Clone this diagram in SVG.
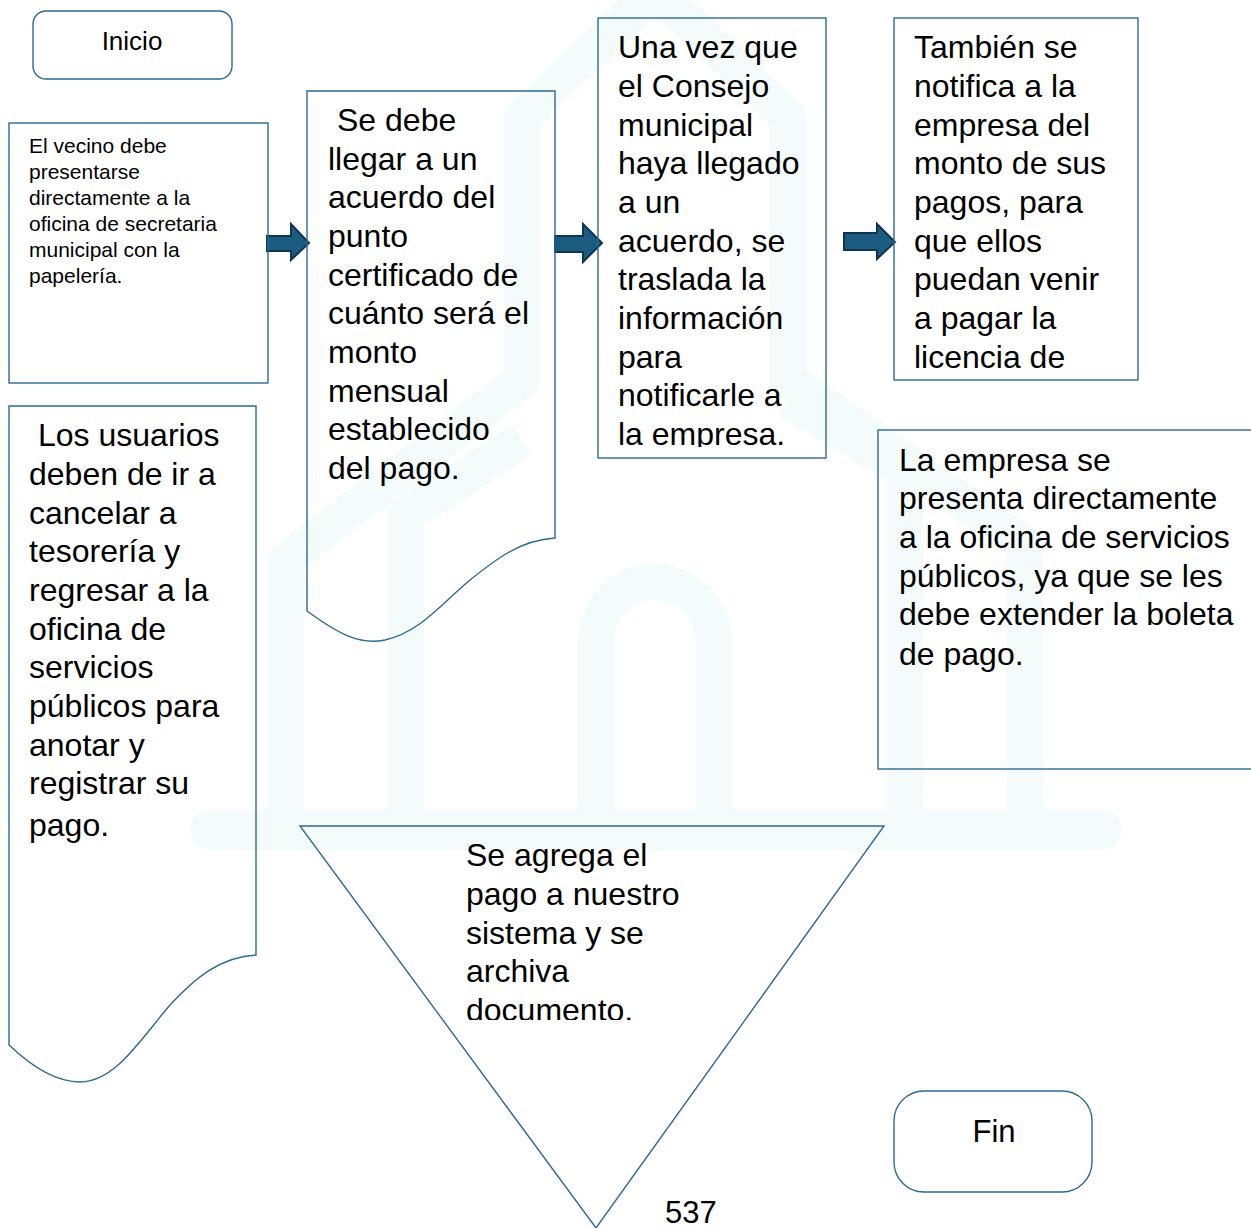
<svg xmlns="http://www.w3.org/2000/svg" width="1251" height="1228" viewBox="0 0 1251 1228">
<defs>
<style>
.box{fill:none;stroke:#2b6a92;stroke-width:1.4}
.t{font-family:"Liberation Sans",Arial,sans-serif;fill:#000}
.s21{font-size:21px}
.s32{font-size:32px}
.arr{fill:#1b5c80;stroke:#0f3550;stroke-width:2;stroke-linejoin:miter}
.wm{fill:none;stroke:#f3fbfb;stroke-width:36;stroke-linejoin:round;stroke-linecap:butt}
</style>
<clipPath id="c3"><rect x="598" y="18" width="228" height="429"/></clipPath>
<clipPath id="c4"><rect x="894" y="18" width="244" height="360"/></clipPath>
<clipPath id="c8"><rect x="300" y="826" width="584" height="194"/></clipPath>
</defs>
<rect width="1251" height="1228" fill="#ffffff"/>
<g id="watermark">
<rect x="190" y="810" width="932" height="40" rx="20" fill="#f3fbfb"/>
<path class="wm" d="M286,810 V560 L522,380 V117 L655,-10 L788,117 V380 L1025,545 V810"/>
<path class="wm" d="M406,810 V515 L522,440"/>
<path class="wm" d="M905,810 V470 L788,400"/>
<path class="wm" d="M596,810 V641 A59,59 0 0 1 714,641 V810"/>
</g>
<g id="connectors">
<path class="arr" d="M267,236 H291 V224 L309,243 L291,260 V251 H267 Z"/>
<path class="arr" d="M555,236 H583 V224 L602,243 L583,262 V252 H555 Z"/>
<path class="arr" d="M844,233 H877 V224 L895,242 L877,259 V250 H844 Z"/>
</g>
<g id="inicio">
<rect class="box" x="33" y="11" width="199" height="68" rx="13"/>
<text class="t" x="132" y="50" font-size="26" text-anchor="middle">Inicio</text>
</g>
<g id="n1">
<rect class="box" x="9" y="123" width="259" height="260"/>
<text class="t s21" x="29" y="153">El vecino debe</text>
<text class="t s21" x="29" y="179">presentarse</text>
<text class="t s21" x="29" y="205">directamente a la</text>
<text class="t s21" x="29" y="231">oficina de secretaria</text>
<text class="t s21" x="29" y="257">municipal con la</text>
<text class="t s21" x="29" y="283">papelería.</text>
</g>
<g id="n2">
<path class="box" d="M307,91 H555 V538 C520,540 495,560 470,580 C440,605 420,632 385,640 C360,645 340,635 307,611 Z"/>
<text class="t s32" x="337" y="131">Se debe</text>
<text class="t s32" x="328" y="170">llegar a un</text>
<text class="t s32" x="328" y="208">acuerdo del</text>
<text class="t s32" x="328" y="247">punto</text>
<text class="t s32" x="328" y="286">certificado de</text>
<text class="t s32" x="328" y="324">cuánto será el</text>
<text class="t s32" x="328" y="363">monto</text>
<text class="t s32" x="328" y="402">mensual</text>
<text class="t s32" x="328" y="440">establecido</text>
<text class="t s32" x="328" y="479">del pago.</text>
</g>
<g id="n3">
<rect class="box" x="598" y="18" width="228" height="440"/>
<g clip-path="url(#c3)">
<text class="t s32" x="618" y="58">Una vez que</text>
<text class="t s32" x="618" y="97">el Consejo</text>
<text class="t s32" x="618" y="136">municipal</text>
<text class="t s32" x="618" y="174">haya llegado</text>
<text class="t s32" x="618" y="213">a un</text>
<text class="t s32" x="618" y="252">acuerdo, se</text>
<text class="t s32" x="618" y="290">traslada la</text>
<text class="t s32" x="618" y="329">información</text>
<text class="t s32" x="618" y="368">para</text>
<text class="t s32" x="618" y="406">notificarle a</text>
<text class="t s32" x="618" y="445">la empresa.</text>
</g>
</g>
<g id="n4">
<rect class="box" x="894" y="18" width="244" height="362"/>
<g clip-path="url(#c4)">
<text class="t s32" x="914" y="58">También se</text>
<text class="t s32" x="914" y="97">notifica a la</text>
<text class="t s32" x="914" y="136">empresa del</text>
<text class="t s32" x="914" y="174">monto de sus</text>
<text class="t s32" x="914" y="213">pagos, para</text>
<text class="t s32" x="914" y="252">que ellos</text>
<text class="t s32" x="914" y="290">puedan venir</text>
<text class="t s32" x="914" y="329">a pagar la</text>
<text class="t s32" x="914" y="368">licencia de</text>
</g>
</g>
<g id="n5">
<rect class="box" x="878" y="430" width="390" height="339"/>
<text class="t s32" x="899" y="471">La empresa se</text>
<text class="t s32" x="899" y="509">presenta directamente</text>
<text class="t s32" x="899" y="548">a la oficina de servicios</text>
<text class="t s32" x="899" y="587">públicos, ya que se les</text>
<text class="t s32" x="899" y="625">debe extender la boleta</text>
<text class="t s32" x="899" y="665">de pago.</text>
</g>
<g id="n6">
<path class="box" d="M9,406 H256 V955 C220,957 195,978 170,1005 C140,1040 115,1082 80,1082 C55,1082 30,1065 9,1045 Z"/>
<text class="t s32" x="38" y="446">Los usuarios</text>
<text class="t s32" x="29" y="485">deben de ir a</text>
<text class="t s32" x="29" y="524">cancelar a</text>
<text class="t s32" x="29" y="562">tesorería y</text>
<text class="t s32" x="29" y="601">regresar a la</text>
<text class="t s32" x="29" y="640">oficina de</text>
<text class="t s32" x="29" y="678">servicios</text>
<text class="t s32" x="29" y="717">públicos para</text>
<text class="t s32" x="29" y="756">anotar y</text>
<text class="t s32" x="29" y="794">registrar su</text>
<text class="t s32" x="29" y="836">pago.</text>
</g>
<g id="n7">
<path class="box" d="M300,826 H884 L596,1228 Z"/>
<g clip-path="url(#c8)">
<text class="t s32" x="466" y="866">Se agrega el</text>
<text class="t s32" x="466" y="905">pago a nuestro</text>
<text class="t s32" x="466" y="944">sistema y se</text>
<text class="t s32" x="466" y="982">archiva</text>
<text class="t s32" x="466" y="1021">documento.</text>
</g>
</g>
<g id="fin">
<rect class="box" x="894" y="1091" width="198" height="101" rx="30"/>
<text class="t" x="994" y="1142" font-size="31" text-anchor="middle">Fin</text>
</g>
<text class="t" x="665" y="1223" font-size="31">537</text>
</svg>
